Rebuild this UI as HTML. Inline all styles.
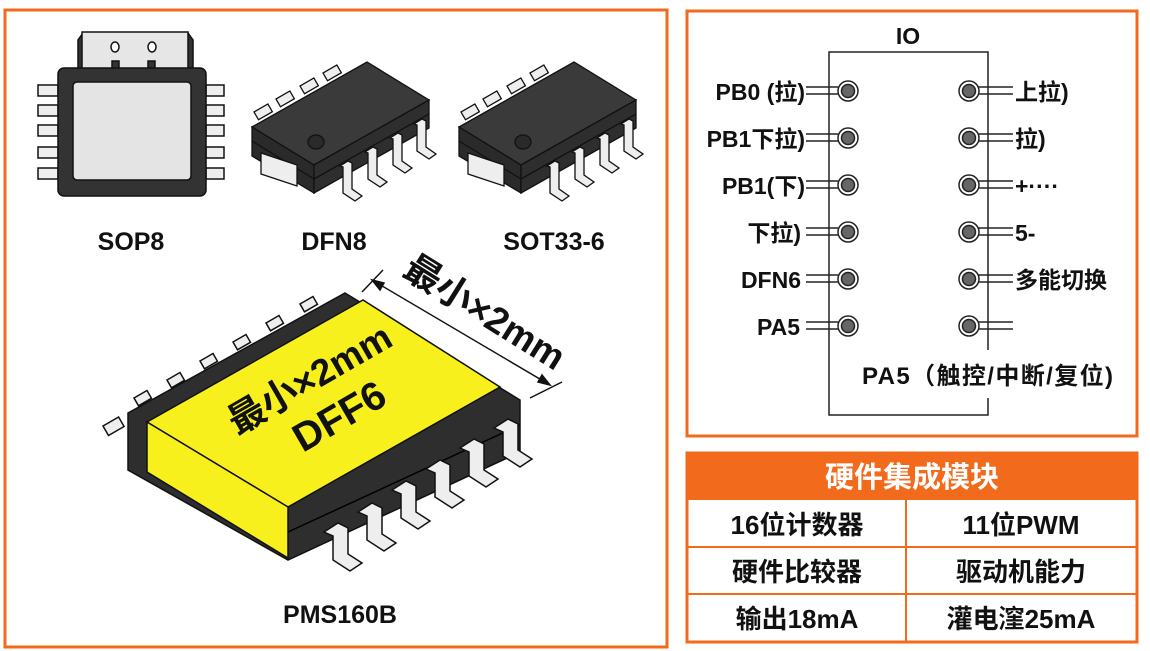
<!DOCTYPE html>
<html><head><meta charset="utf-8"><style>
body{margin:0;width:1150px;height:651px;background:#fff;overflow:hidden;font-family:"Liberation Sans","Noto Sans CJK SC",sans-serif;}
svg{position:absolute;left:0;top:0}
</style></head><body>
<svg width="1150" height="651" viewBox="0 0 1150 651" font-family="Liberation Sans, Noto Sans CJK SC, sans-serif">
<rect x="5" y="10" width="662" height="637" fill="none" stroke="#f26a1b" stroke-width="3"/>
<rect x="687" y="11" width="450" height="425" fill="none" stroke="#f26a1b" stroke-width="3"/>
<!-- SOP8 -->
<g stroke="#111" stroke-width="1.5">
<path d="M78,70 L78,40 L83,33 L188,33 L193,40 L193,70 Z" fill="#333"/>
<rect x="82" y="32" width="106" height="38" fill="#e6e6e6"/>
<ellipse cx="115" cy="47" rx="4" ry="5" fill="#fff"/><ellipse cx="152" cy="47" rx="4" ry="5" fill="#fff"/>
<rect x="112" y="61" width="7" height="8" fill="#333"/><rect x="148" y="61" width="7" height="8" fill="#333"/>
<g fill="#eee">
<rect x="38" y="85" width="20" height="11"/><rect x="38" y="105" width="20" height="11"/><rect x="38" y="125" width="20" height="11"/><rect x="38" y="147" width="20" height="11"/><rect x="38" y="168" width="20" height="11"/>
<rect x="206" y="85" width="18" height="11"/><rect x="206" y="105" width="18" height="11"/><rect x="206" y="125" width="18" height="11"/><rect x="206" y="147" width="18" height="11"/><rect x="206" y="168" width="18" height="11"/>
</g>
<rect x="58" y="68" width="148" height="128" rx="6" fill="#333"/>
<rect x="73" y="82" width="118" height="98" rx="4" fill="#e4e4e4"/>
</g>
<!-- DFN8 -->
<g id="iso" stroke="#111" stroke-width="1.3">
<g fill="#eee">
<rect x="0" y="0" width="16" height="9" transform="translate(254,112) rotate(-30)"/>
<rect x="0" y="0" width="16" height="9" transform="translate(276,99) rotate(-30)"/>
<rect x="0" y="0" width="16" height="9" transform="translate(300,86) rotate(-30)"/>
<rect x="0" y="0" width="16" height="9" transform="translate(323,73) rotate(-30)"/>
</g>
<polygon points="252,127 367,62 429,100 314,165" fill="#3a3a3a"/>
<polygon points="252,127 314,165 314,193 252,156" fill="#2a2a2a"/>
<polygon points="314,165 429,100 429,128 314,193" fill="#2e2e2e"/>
<line x1="252" y1="141" x2="314" y2="179"/><line x1="314" y1="179" x2="429" y2="114"/>
<polygon points="261,153 297,165 297,186 261,174" fill="#eee"/>
<ellipse cx="316" cy="142" rx="8" ry="7" fill="#2a2a2a"/>
<g fill="#eee">
<path d="M340,166 l8,-5 l4,2 l0,26 l10,7 l-7,5 l-12,-8 l0,-26 z"/>
<path d="M365,152 l8,-5 l4,2 l0,26 l10,7 l-7,5 l-12,-8 l0,-26 z"/>
<path d="M390,138 l8,-5 l4,2 l0,26 l10,7 l-7,5 l-12,-8 l0,-26 z"/>
<path d="M414,124 l8,-5 l4,2 l0,26 l10,7 l-7,5 l-12,-8 l0,-26 z"/>
</g>
</g>
<use href="#iso" transform="translate(207,0)"/>
<g font-size="25" font-weight="bold" fill="#111" text-anchor="middle">
<text x="131" y="250">SOP8</text><text x="334" y="250">DFN8</text><text x="554" y="250">SOT33-6</text>
<text x="340" y="623">PMS160B</text>
</g>
<!-- big chip -->
<g stroke="#111" stroke-width="1.5">
<g fill="#eee">
<rect x="0" y="0" width="18" height="11" transform="translate(103,426) rotate(-30)"/>
<rect x="0" y="0" width="15" height="9" transform="translate(134,398) rotate(-30)"/>
<rect x="0" y="0" width="15" height="9" transform="translate(167,380) rotate(-30)"/>
<rect x="0" y="0" width="15" height="9" transform="translate(200,361) rotate(-30)"/>
<rect x="0" y="0" width="15" height="9" transform="translate(233,342) rotate(-30)"/>
<rect x="0" y="0" width="15" height="9" transform="translate(266,323) rotate(-30)"/>
<rect x="0" y="0" width="15" height="9" transform="translate(300,304) rotate(-30)"/>
</g>
<polygon points="128,413 345,293 520,400 520,452 288,560 128,470" fill="#2e2e2e"/>
<polygon points="147,422 363,300 500,387 288,507" fill="#f7f01c"/>
<polygon points="147,422 288,507 288,558 147,472" fill="#f7f01c"/>
<line x1="288" y1="532" x2="520" y2="425" stroke="#000"/>
<g fill="#eee">
<path d="M324,532 l14,-9 l10,5 l0,26 l14,9 l-12,8 l-17,-11 l0,-24 z"/>
<path d="M358,512 l14,-9 l10,5 l0,26 l14,9 l-12,8 l-17,-11 l0,-24 z"/>
<path d="M392,490 l14,-9 l10,5 l0,26 l14,9 l-12,8 l-17,-11 l0,-24 z"/>
<path d="M426,469 l14,-9 l10,5 l0,26 l14,9 l-12,8 l-17,-11 l0,-24 z"/>
<path d="M460,448 l14,-9 l10,5 l0,26 l14,9 l-12,8 l-17,-11 l0,-24 z"/>
<path d="M494,428 l14,-9 l10,5 l0,26 l14,9 l-12,8 l-17,-11 l0,-24 z"/>
</g>
</g>
<g font-weight="bold" fill="#111" text-anchor="middle">
<text transform="translate(316,390) rotate(-30)" font-size="37">最小×2mm</text>
<text transform="translate(346,428) rotate(-30)" font-size="40">DFF6</text>
<text transform="translate(478,323) rotate(32)" font-size="37">最小×2mm</text>
</g>
<g stroke="#111" stroke-width="1.5" fill="#111">
<line x1="372" y1="280" x2="550" y2="385"/>
<line x1="362" y1="292" x2="383" y2="270"/>
<line x1="530" y1="398" x2="562" y2="382"/>
<polygon points="372,280 384,283 380,290"/>
<polygon points="550,385 538,382 542,375"/>
</g>
<!-- IO diagram -->
<g stroke="#222" stroke-width="1.5" fill="none">
<polyline points="988,350 988,52 829,52 829,415 988,415 988,398"/>
</g>
<text x="908" y="44" font-size="23" font-weight="bold" text-anchor="middle" fill="#111">IO</text>
<g id="pl" stroke="#222" stroke-width="1.5">
<line x1="806" y1="87" x2="838" y2="87"/><line x1="806" y1="94" x2="838" y2="94"/>
<circle cx="848" cy="91" r="10" fill="#fff"/><circle cx="848" cy="91" r="6.5" fill="#666"/>
</g>
<use href="#pl" transform="translate(0,47)"/><use href="#pl" transform="translate(0,94)"/><use href="#pl" transform="translate(0,141)"/><use href="#pl" transform="translate(0,188)"/><use href="#pl" transform="translate(0,235)"/>
<g id="pr" stroke="#222" stroke-width="1.5">
<line x1="978" y1="87" x2="1013" y2="87"/><line x1="978" y1="94" x2="1013" y2="94"/>
<circle cx="969" cy="91" r="10" fill="#fff"/><circle cx="969" cy="91" r="6.5" fill="#666"/>
</g>
<use href="#pr" transform="translate(0,47)"/><use href="#pr" transform="translate(0,94)"/><use href="#pr" transform="translate(0,141)"/><use href="#pr" transform="translate(0,188)"/><use href="#pr" transform="translate(0,235)"/>
<g font-size="23" font-weight="bold" fill="#111" text-anchor="end">
<text x="805" y="100">PB0 (拉)</text><text x="805" y="147">PB1下拉)</text><text x="805" y="194">PB1(下)</text><text x="801" y="241">下拉)</text><text x="801" y="288">DFN6</text><text x="800" y="335">PA5</text>
</g>
<g font-size="23" font-weight="bold" fill="#111">
<text x="1015" y="100">上拉)</text><text x="1015" y="147">拉)</text><text x="1015" y="194">+····</text><text x="1015" y="241">5-</text><text x="1015" y="288">多能切换</text>
<text x="862" y="384" font-size="24" textLength="251">PA5（触控/中断/复位)</text>
</g>
<!-- table -->
<rect x="686" y="452" width="452" height="48" fill="#f26a1b"/>
<rect x="687" y="453" width="450" height="189" fill="none" stroke="#f26a1b" stroke-width="3"/>
<g stroke="#f26a1b" stroke-width="2">
<line x1="686" y1="547" x2="1138" y2="547"/><line x1="686" y1="594" x2="1138" y2="594"/><line x1="906" y1="500" x2="906" y2="642"/>
</g>
<text x="912" y="487" font-size="29" font-weight="bold" fill="#fff" text-anchor="middle">硬件集成模块</text>
<g font-size="26" font-weight="bold" fill="#111" text-anchor="middle">
<text x="797" y="534">16位计数器</text><text x="1021" y="534">11位PWM</text>
<text x="797" y="581">硬件比较器</text><text x="1021" y="581">驱动机能力</text>
<text x="797" y="628">输出18mA</text><text x="1021" y="628">灌电漥25mA</text>
</g>
</svg>
</body></html>
